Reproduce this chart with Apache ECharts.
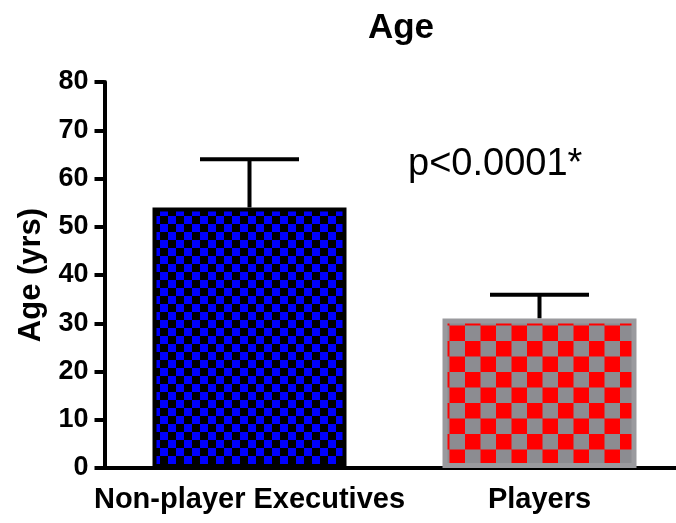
<!DOCTYPE html>
<html>
<head>
<meta charset="utf-8">
<script src="https://cdn.jsdelivr.net/npm/echarts@6/dist/echarts.min.js"></script>
<style>
  html, body { margin: 0; padding: 0; background: #fff; }
  #chart { width: 676px; height: 523px; }
</style>
</head>
<body>
<div id="chart"></div>
<script>
// Group labels, means and standard deviations (years)
const categories = ['Non-player Executives', 'Players'];
const meanAge = [54.0, 31.0];
const sdAge = [10.0, 4.9];
const yTicks = [0, 10, 20, 30, 40, 50, 60, 70, 80];
const pText = 'p<0.0001*';

const FONT = 'Liberation Sans, Arial, Helvetica, sans-serif';

// Checkerboard fill used for the bars
function checker(cell, c1, c2) {
  const cv = document.createElement('canvas');
  cv.width = cell * 2;
  cv.height = cell * 2;
  const ctx = cv.getContext('2d');
  ctx.fillStyle = c1;
  ctx.fillRect(0, 0, cell * 2, cell * 2);
  ctx.fillStyle = c2;
  ctx.fillRect(cell, 0, cell, cell);
  ctx.fillRect(0, cell, cell, cell);
  return cv;
}

const blueTile = checker(8, '#0000ff', '#000000');
const redTile = checker(15.5, '#ff0000', '#8c8c91');

const barStyles = [
  { color: { image: blueTile, repeat: 'repeat' }, borderColor: '#000000', borderWidth: 4 },
  { color: { image: redTile, repeat: 'repeat' }, borderColor: '#9a9a9e', borderWidth: 5 }
];

const chart = echarts.init(document.getElementById('chart'), null, { renderer: 'canvas' });

chart.setOption({
  animation: false,
  backgroundColor: '#ffffff',
  title: {
    text: 'Age',
    left: 396,
    top: 6,
    textAlign: 'center',
    textStyle: { fontFamily: FONT, fontWeight: 'bold', fontSize: 35, color: '#000' }
  },
  // the plot runs a little past the right edge of the page
  grid: { left: 104.5, width: 580, top: 82, bottom: 55, containLabel: false, outerBoundsMode: 'none' },
  xAxis: {
    type: 'category',
    data: categories,
    axisLine: { lineStyle: { color: '#000', width: 4 } },
    axisTick: { alignWithLabel: true, length: 8, lineStyle: { color: '#000', width: 4 } },
    axisLabel: {
      interval: 0,
      margin: 17,
      fontFamily: FONT,
      fontWeight: 'bold',
      fontSize: 29,
      color: '#000'
    },
    splitLine: { show: false }
  },
  yAxis: {
    type: 'value',
    min: yTicks[0],
    max: yTicks[yTicks.length - 1],
    interval: 10,
    name: 'Age (yrs)',
    nameLocation: 'middle',
    nameGap: 58,
    nameTextStyle: { fontFamily: FONT, fontWeight: 'bold', fontSize: 31, color: '#000' },
    axisLine: { show: true, lineStyle: { color: '#000', width: 4 } },
    axisTick: { show: true, length: 10, lineStyle: { color: '#000', width: 4 } },
    axisLabel: { margin: 16, fontFamily: FONT, fontWeight: 'bold', fontSize: 27, color: '#000' },
    splitLine: { show: false }
  },
  graphic: [
    {
      type: 'text',
      left: 408,
      top: 146,
      style: { text: pText, font: '38px ' + FONT, fill: '#000' }
    }
  ],
  series: [
    {
      type: 'custom',
      name: 'SD',
      z: 1,
      data: meanAge.map((m, i) => [i, m, m + sdAge[i]]),
      renderItem: function (params, api) {
        const i = api.value(0);
        const base = api.coord([i, api.value(1)]);
        const top = api.coord([i, api.value(2)]);
        const half = 49.5;
        const st = { stroke: '#000', lineWidth: 4, lineCap: 'butt' };
        return {
          type: 'group',
          children: [
            { type: 'line', shape: { x1: base[0], y1: base[1], x2: top[0], y2: top[1] }, style: st },
            { type: 'line', shape: { x1: top[0] - half, y1: top[1], x2: top[0] + half, y2: top[1] }, style: st }
          ]
        };
      }
    },
    {
      type: 'bar',
      name: 'Mean',
      z: 2,
      barWidth: 194,
      data: meanAge.map((v, i) => ({ value: v, itemStyle: barStyles[i] }))
    }
  ]
});
</script>
</body>
</html>
